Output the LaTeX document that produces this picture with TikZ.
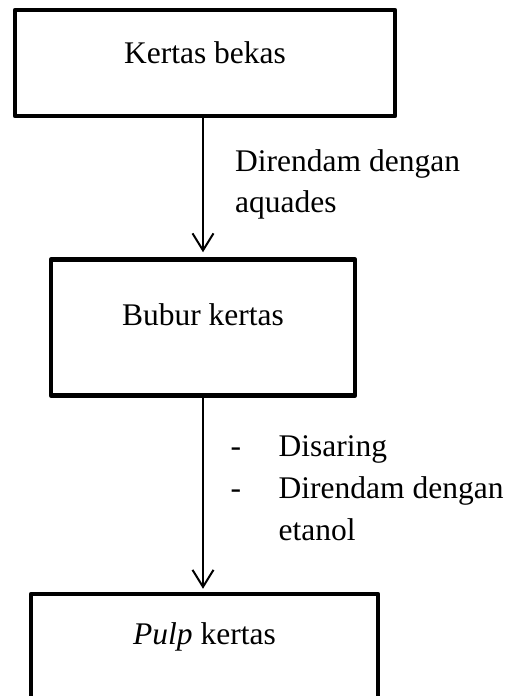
\documentclass[tikz,border=0pt]{standalone}
\usepackage{fontspec}
\setmainfont{Liberation Serif}
\usetikzlibrary{arrows.meta}
\begin{document}
\begin{tikzpicture}[x=1pt,y=-1pt,
  every node/.style={font=\fontsize{31.5pt}{41.5pt}\selectfont},
  procbox/.style={draw=black,line width=4.5pt,line join=round,inner sep=0pt,rectangle},
  flowarrow/.style={draw=black,line width=2pt,-{Straight Barb[length=17pt,width=21pt,line width=2pt]}},
  note/.style={anchor=base west,inner sep=0pt,align=left}]
\useasboundingbox (0,0) rectangle (511,696);
\clip (0,0) rectangle (511,696);
\fill[white] (0,0) rectangle (511,696);
% boxes
\node[procbox,minimum width=380pt,text height=53.3pt,text depth=52.7pt] (box1) at (205,63) {Kertas bekas};
\node[procbox,minimum width=304pt,text height=65.5pt,text depth=70.5pt] (box2) at (203,327.5) {Bubur kertas};
\node[procbox,minimum width=347pt,text height=50pt,text depth=86pt] (box3) at (204.5,662) {\textit{Pulp} kertas};
% connectors
\draw[flowarrow,shorten >=5pt] (box2.north |- box1.south) -- (box2.north);
\draw[flowarrow,shorten >=3pt] (box2.south) -- (box2.south |- box3.north);
% labels
\node[note] (lab1a) at (235,171.5) {Direndam dengan};
\node[note] (lab1b) at (235,212.5) {aquades};
\node[note] (dash1) at (230.5,456.5) {-};
\node[note] (lab2a) at (278.5,456.5) {Disaring};
\node[note] (dash2) at (230.5,498) {-};
\node[note] (lab2b) at (278.5,498) {Direndam dengan};
\node[note] (lab2c) at (278.5,540) {etanol};
\end{tikzpicture}
\end{document}
